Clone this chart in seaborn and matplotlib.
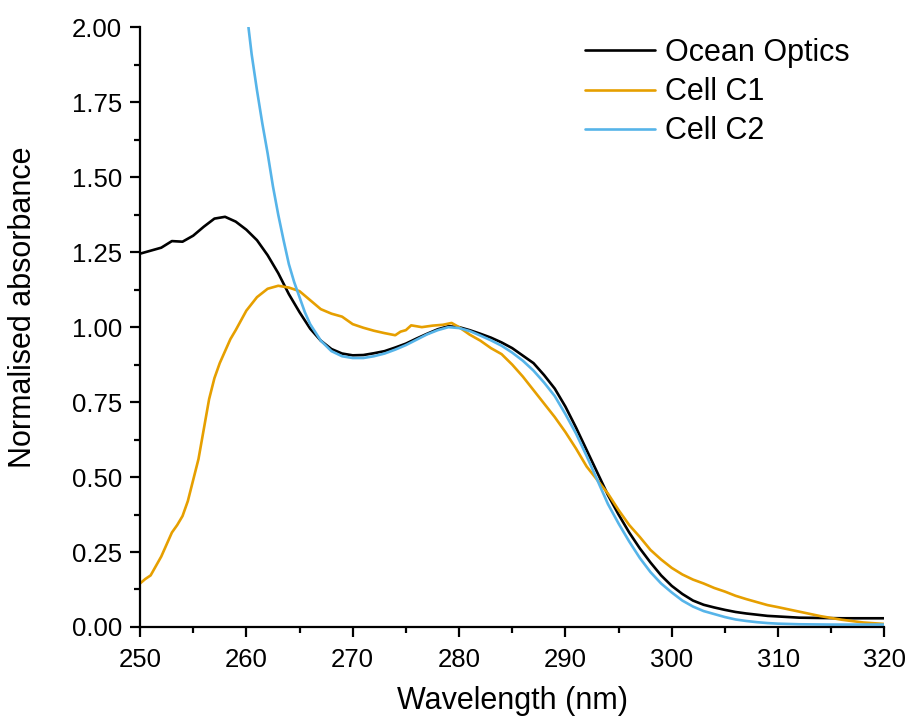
import numpy as np
import pandas as pd
import seaborn as sns
import matplotlib.pyplot as plt
from matplotlib.ticker import MultipleLocator

# Ocean Optics reference spectrum
wl_ocean = [250, 251, 252, 253, 254, 255, 256, 257, 258, 259, 260, 261, 262, 263, 264,
            265, 266, 267, 268, 269, 270, 271, 272, 273, 274, 275, 276, 277, 278, 279,
            280, 281, 282, 283, 284, 285, 286, 287, 288, 289, 290, 291, 292, 293, 294,
            295, 296, 297, 298, 299, 300, 301, 302, 303, 304, 305, 306, 307, 308, 309,
            310, 312, 314, 316, 318, 320]
abs_ocean = [1.245, 1.255, 1.265, 1.287, 1.285, 1.305, 1.335, 1.362, 1.368, 1.352, 1.325,
             1.29, 1.24, 1.18, 1.11, 1.05, 0.995, 0.955, 0.927, 0.912, 0.906, 0.907, 0.913,
             0.92, 0.932, 0.945, 0.962, 0.978, 0.993, 1.003, 1.0, 0.99, 0.978, 0.965, 0.949,
             0.93, 0.905, 0.88, 0.84, 0.795, 0.735, 0.665, 0.59, 0.515, 0.44, 0.375, 0.315,
             0.262, 0.215, 0.172, 0.137, 0.11, 0.088, 0.074, 0.065, 0.057, 0.05, 0.045,
             0.041, 0.037, 0.035, 0.031, 0.03, 0.029, 0.029, 0.029]

# Cell C1
wl_c1 = [250, 250.5, 251, 252, 253, 253.5, 254, 254.5, 255, 255.5, 256, 256.5, 257, 257.5,
         258, 258.5, 259, 260, 261, 262, 263, 264, 265, 266, 267, 268, 269, 270, 271, 272,
         273, 274, 274.5, 275, 275.5, 276.5, 277.5, 278.5, 279.3, 280, 281, 282, 283, 284,
         285, 286, 287, 288, 289, 290, 291, 292, 293, 294, 295, 296, 297, 298, 299, 300,
         301, 302, 303, 304, 305, 306, 307, 308, 309, 310, 312, 314, 316, 318, 320]
abs_c1 = [0.145, 0.16, 0.172, 0.235, 0.315, 0.34, 0.37, 0.42, 0.49, 0.56, 0.66, 0.76, 0.83,
          0.88, 0.92, 0.96, 0.99, 1.055, 1.10, 1.128, 1.138, 1.132, 1.12, 1.09, 1.06, 1.045,
          1.035, 1.01, 0.998, 0.988, 0.98, 0.973, 0.985, 0.99, 1.006, 1.0, 1.005, 1.008,
          1.014, 1.0, 0.975, 0.955, 0.93, 0.91, 0.875, 0.835, 0.79, 0.745, 0.70, 0.65,
          0.595, 0.535, 0.49, 0.445, 0.39, 0.34, 0.30, 0.257, 0.225, 0.197, 0.175, 0.158,
          0.145, 0.13, 0.118, 0.104, 0.093, 0.083, 0.073, 0.066, 0.051, 0.036, 0.024,
          0.015, 0.01]

# Cell C2
wl_c2 = [260.2, 260.5, 261, 261.5, 262, 262.5, 263, 263.5, 264, 264.5, 265, 265.5, 266,
         267, 268, 269, 270, 271, 272, 273, 274, 275, 276, 277, 278, 279, 280, 281, 282,
         283, 284, 285, 286, 287, 288, 289, 290, 291, 292, 293, 294, 295, 296, 297, 298,
         299, 300, 301, 302, 303, 304, 305, 306, 307, 308, 309, 310, 312, 315, 320]
abs_c2 = [2.00, 1.91, 1.79, 1.68, 1.58, 1.47, 1.375, 1.29, 1.21, 1.15, 1.10, 1.05, 1.01,
          0.955, 0.92, 0.903, 0.897, 0.897, 0.903, 0.912, 0.925, 0.94, 0.958, 0.976, 0.99,
          1.0, 0.997, 0.987, 0.972, 0.956, 0.938, 0.915, 0.888, 0.855, 0.815, 0.77, 0.71,
          0.645, 0.57, 0.49, 0.41, 0.345, 0.285, 0.23, 0.183, 0.145, 0.115, 0.088, 0.068,
          0.053, 0.043, 0.033, 0.025, 0.02, 0.016, 0.013, 0.011, 0.009, 0.008, 0.008]

series = [("Ocean Optics", wl_ocean, abs_ocean, "#000000"),
          ("Cell C1", wl_c1, abs_c1, "#E69F00"),
          ("Cell C2", wl_c2, abs_c2, "#56B4E9")]

sns.set_style("ticks")
plt.rcParams['font.family'] = ['Liberation Sans', 'DejaVu Sans']
plt.rcParams['text.color'] = 'black'
plt.rcParams['axes.labelcolor'] = 'black'

fig = plt.figure(figsize=(9.09, 7.19), dpi=100)
ax = fig.add_axes([0.154, 0.128, 0.819, 0.834])

for name, wl, ab, col in series:
    df = pd.DataFrame({'wl': wl, 'abs': ab})
    sns.lineplot(data=df, x='wl', y='abs', color=col, linewidth=1.9, label=name, ax=ax)

ax.set_xlim(250, 320)
ax.set_ylim(0, 2.0)
ax.xaxis.set_major_locator(MultipleLocator(10))
ax.xaxis.set_minor_locator(MultipleLocator(5))
ax.yaxis.set_major_locator(MultipleLocator(0.25))
ax.yaxis.set_minor_locator(MultipleLocator(0.125))
ax.yaxis.set_major_formatter(plt.FormatStrFormatter('%.2f'))

for s in ['top', 'right']:
    ax.spines[s].set_visible(False)
for s in ['left', 'bottom']:
    ax.spines[s].set_linewidth(1.6)
    ax.spines[s].set_color('black')

ax.tick_params(which='major', direction='out', length=7, width=1.6, labelsize=18.5,
               colors='black', pad=6)
ax.tick_params(axis='x', which='major', pad=8)
ax.tick_params(which='minor', direction='out', length=4, width=1.6, colors='black')

ax.set_xlabel('Wavelength (nm)', fontsize=22, labelpad=10)
ax.set_ylabel('Normalised absorbance', fontsize=22)
# the y label sits a little above the axis centre in the original
ax.yaxis.set_label_coords(-0.137, 0.533)

ax.legend(loc='upper left', bbox_to_anchor=(0.598, 0.982), frameon=False, fontsize=22,
          handlelength=2.3, handletextpad=0.3, labelspacing=0.3, borderpad=0,
          borderaxespad=0)

fig.savefig('out.png', dpi=100)
